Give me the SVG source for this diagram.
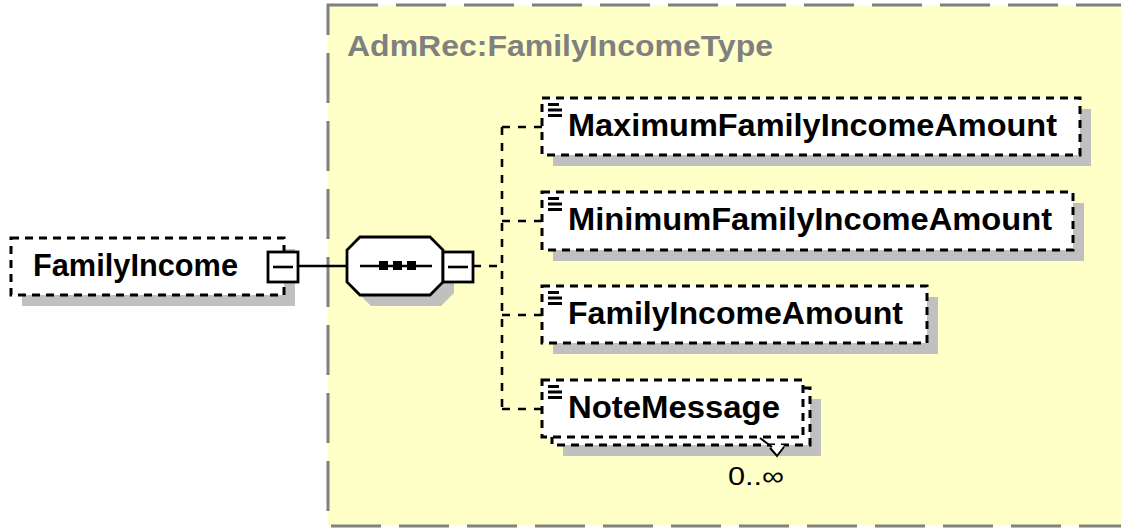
<svg xmlns="http://www.w3.org/2000/svg" width="1121" height="529" viewBox="0 0 1121 529">
<defs>
<style>
.bg{fill:#ffffff}
.type{fill:#ffffc8;stroke:#808080;stroke-width:3;stroke-dasharray:50 18}
.shadow{fill:#c0c0c0;stroke:none}
.box{fill:#ffffff;stroke:#000000;stroke-width:3;stroke-dasharray:8 6}
.solid{fill:#ffffff;stroke:#000000;stroke-width:2.8}
.line{stroke:#000000;stroke-width:2.6;fill:none}
.dash{stroke:#000000;stroke-width:2.6;fill:none;stroke-dasharray:8 8}
.lbl{font-family:"Liberation Sans",Arial,sans-serif;font-weight:bold;font-size:31px;fill:#000000}
.tlbl{font-family:"Liberation Sans",Arial,sans-serif;font-weight:bold;font-size:30px;fill:#808080}
.occ{font-family:"Liberation Sans",Arial,sans-serif;font-size:26px;fill:#000000}
</style>
<g id="icon">
<path d="M548 104.5h11M548 110h14M548 115.5h14" stroke="#000" stroke-width="3" fill="none"/>
</g>
</defs>
<rect x="0" y="0" width="1121" height="529" class="bg"/>
<g id="FamilyIncomeType">
<rect x="328" y="5" width="820" height="521" class="type"/>
<text x="347" y="56" class="tlbl" textLength="426" lengthAdjust="spacingAndGlyphs">AdmRec:FamilyIncomeType</text>
</g>
<g id="connectors">
<line x1="298" y1="266" x2="347" y2="266" class="line"/>
<line x1="473" y1="266" x2="502" y2="266" class="dash"/>
<line x1="502" y1="127" x2="502" y2="409" class="dash"/>
<line x1="502" y1="127" x2="542" y2="127" class="dash"/>
<line x1="502" y1="221" x2="542" y2="221" class="dash"/>
<line x1="502" y1="315" x2="542" y2="315" class="dash"/>
<line x1="502" y1="409" x2="542" y2="409" class="dash"/>
</g>
<g id="FamilyIncome">
<rect x="22" y="249" width="273" height="57" class="shadow"/>
<rect x="11" y="238" width="273" height="57" class="box"/>
<text x="33" y="276" class="lbl" textLength="205" lengthAdjust="spacingAndGlyphs">FamilyIncome</text>
<rect x="268" y="252" width="30" height="30" class="solid"/>
<line x1="273" y1="267" x2="293" y2="267" class="line"/>
</g>
<g id="sequence">
<polygon points="371,248 441,248 454,261 454,293 441,306 371,306 358,293 358,261" class="shadow"/>
<polygon points="360,237 430,237 443,250 443,282 430,295 360,295 347,282 347,250" class="solid"/>
<line x1="360" y1="266" x2="432" y2="266" class="line"/>
<rect x="379" y="261" width="9" height="9" fill="#000"/>
<rect x="393" y="261" width="9" height="9" fill="#000"/>
<rect x="407" y="261" width="9" height="9" fill="#000"/>
<rect x="443" y="252" width="30" height="30" class="solid"/>
<line x1="448" y1="267" x2="468" y2="267" class="line"/>
</g>
<g id="MaximumFamilyIncomeAmount">
<rect x="553" y="109" width="538" height="57" class="shadow"/>
<rect x="542" y="98" width="538" height="57" class="box"/>
<use href="#icon" y="0"/>
<text x="568" y="136" class="lbl" textLength="489" lengthAdjust="spacingAndGlyphs">MaximumFamilyIncomeAmount</text>
</g>
<g id="MinimumFamilyIncomeAmount">
<rect x="553" y="203" width="531" height="58" class="shadow"/>
<rect x="542" y="192" width="531" height="58" class="box"/>
<use href="#icon" y="94"/>
<text x="568" y="230" class="lbl" textLength="484" lengthAdjust="spacingAndGlyphs">MinimumFamilyIncomeAmount</text>
</g>
<g id="FamilyIncomeAmount">
<rect x="553" y="297" width="385" height="57" class="shadow"/>
<rect x="542" y="286" width="385" height="57" class="box"/>
<use href="#icon" y="188"/>
<text x="568" y="324" class="lbl" textLength="335" lengthAdjust="spacingAndGlyphs">FamilyIncomeAmount</text>
</g>
<g id="NoteMessage">
<rect x="563" y="399" width="258" height="57" class="shadow"/>
<rect x="552" y="388" width="258" height="57" class="box"/>
<rect x="542" y="380" width="261" height="57" class="box"/>
<path d="M770 445 L777 455 L784 445 Z" fill="#ffffff" stroke="none"/>
<path d="M760 438 L772 447 M770 448 L777 456 L784 447" stroke="#000" stroke-width="2" fill="none"/>
<use href="#icon" y="282"/>
<text x="568" y="418" class="lbl" textLength="212" lengthAdjust="spacingAndGlyphs">NoteMessage</text>
<text x="728" y="485" class="occ" textLength="56" lengthAdjust="spacingAndGlyphs">0..∞</text>
</g>
</svg>
